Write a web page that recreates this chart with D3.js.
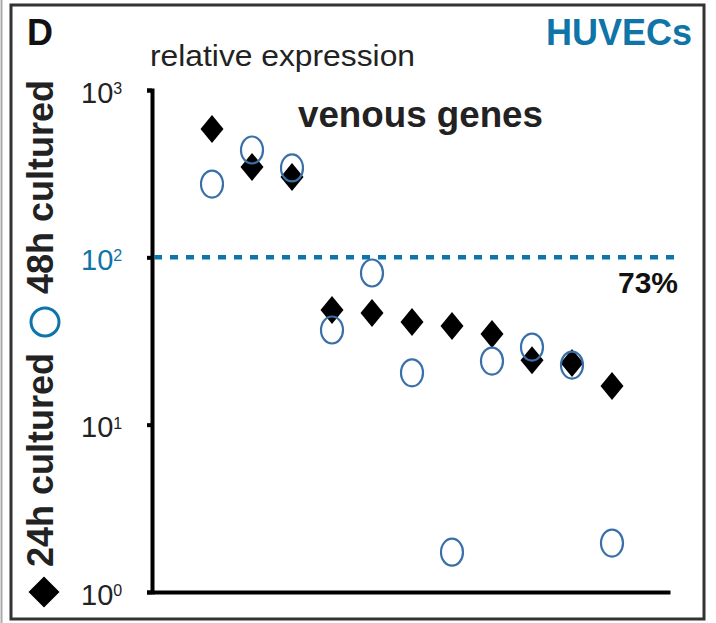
<!DOCTYPE html>
<html lang="en">
<head>
  <meta charset="UTF-8">
  <title>HUVECs venous genes</title>
  <script src="https://d3js.org/d3.v7.min.js"></script>
  <style>
    body {
      margin: 0;
      background: #fff;
    }
    svg {
      display: block;
      font-family: Arial, "Liberation Sans", Helvetica, sans-serif;
    }
  </style>
</head>
<body>
  <svg width="716" height="623"></svg>
  <script>
    // venous genes, relative expression (log scale)
    const genes = ["g1", "g2", "g3", "g4", "g5", "g6", "g7", "g8", "g9", "g10", "g11"];
    const cultured24h = [585, 347, 302, 48.4, 46.5, 41.1, 38.9, 34.8, 24.3, 23.4, 17.0];
    const cultured48h = [274, 438, 342, 36.8, 80.6, 20.4, 1.73, 24.0, 29.1, 22.7, 1.96];
    const yTicks = [1, 10, 100, 1000];
    const threshold = 100;
    const thresholdLabel = "73%";

    const blue = "#0f74a8";
    const circleBlue = "#3a70aa";
    const ink = "#222";

    const plot = {left: 152, right: 670, top: 90, bottom: 592};

    const svg = d3.select("svg");

    // outer frame
    svg.append("line")
      .attr("x1", 1.5).attr("x2", 1.5).attr("y1", 0).attr("y2", 623)
      .attr("stroke", "#aaa").attr("stroke-width", 2);
    svg.append("rect")
      .attr("x", 11).attr("y", 5).attr("width", 693).attr("height", 614)
      .attr("fill", "none").attr("stroke", "#333").attr("stroke-width", 3);

    const x = d3.scaleLinear()
      .domain([-1.5, genes.length + 0.45])
      .range([plot.left, plot.right]);

    const y = d3.scaleLog()
      .domain([1, 1000])
      .range([plot.bottom, plot.top]);

    // y axis
    const yAxis = svg.append("g")
      .attr("transform", `translate(${plot.left},0)`)
      .call(d3.axisLeft(y).tickValues(yTicks).tickSize(5).tickSizeOuter(5));

    yAxis.select(".domain").attr("stroke", "#000").attr("stroke-width", 4);
    yAxis.selectAll(".tick line").attr("stroke", "#000").attr("stroke-width", 4);
    yAxis.selectAll(".tick text").each(function (d) {
      const t = d3.select(this)
        .text("")
        .attr("x", -71)
        .attr("text-anchor", "start")
        .attr("font-size", 29)
        .attr("fill", d === threshold ? blue : ink)
        .attr("dy", "0.42em");
      t.append("tspan").text("10");
      t.append("tspan")
        .attr("font-size", 16)
        .attr("dy", "-0.55em")
        .text(Math.round(Math.log10(d)));
    });

    // x axis
    const xAxis = svg.append("g")
      .attr("transform", `translate(0,${plot.bottom})`)
      .call(d3.axisBottom(x).tickValues([]).tickSizeOuter(0));
    xAxis.select(".domain").attr("stroke", "#000").attr("stroke-width", 4);

    // threshold line
    svg.append("line")
      .attr("x1", plot.left + 2).attr("x2", plot.right + 5)
      .attr("y1", y(threshold)).attr("y2", y(threshold))
      .attr("stroke", blue)
      .attr("stroke-width", 4.5)
      .attr("stroke-dasharray", "8,8");

    svg.append("text")
      .attr("x", 678).attr("y", 293)
      .attr("text-anchor", "end")
      .attr("font-size", 30).attr("font-weight", "bold")
      .attr("fill", "#111")
      .text(thresholdLabel);

    // markers
    const diamond = (w, h) => `M0,${-h / 2}L${w / 2},0L0,${h / 2}L${-w / 2},0Z`;

    svg.append("g").selectAll("path")
      .data(cultured24h)
      .join("path")
      .attr("d", diamond(23, 28))
      .attr("transform", (d, i) => `translate(${x(i)},${y(d)})`)
      .attr("fill", "#000");

    svg.append("g").selectAll("ellipse")
      .data(cultured48h)
      .join("ellipse")
      .attr("cx", (d, i) => x(i))
      .attr("cy", d => y(d))
      .attr("rx", 11)
      .attr("ry", 13.5)
      .attr("fill", "none")
      .attr("stroke", circleBlue)
      .attr("stroke-width", 2.2);

    // titles
    svg.append("text")
      .attr("x", 27).attr("y", 45)
      .attr("font-size", 36).attr("font-weight", "bold")
      .attr("fill", "#111")
      .text("D");

    svg.append("text")
      .attr("x", 692).attr("y", 45)
      .attr("text-anchor", "end")
      .attr("font-size", 36).attr("font-weight", "bold")
      .attr("fill", blue)
      .text("HUVECs");

    svg.append("text")
      .attr("x", 150).attr("y", 66)
      .attr("font-size", 29)
      .attr("textLength", 265)
      .attr("lengthAdjust", "spacingAndGlyphs")
      .attr("fill", ink)
      .text("relative expression");

    svg.append("text")
      .attr("x", 298).attr("y", 127)
      .attr("font-size", 37).attr("font-weight", "bold")
      .attr("textLength", 245)
      .attr("lengthAdjust", "spacingAndGlyphs")
      .attr("fill", ink)
      .text("venous genes");

    // rotated legend on the left
    const legend = svg.append("g");
    legend.append("path")
      .attr("d", diamond(31, 31))
      .attr("transform", "translate(44,592)")
      .attr("fill", "#000");
    legend.append("text")
      .attr("transform", "translate(53,567) rotate(-90)")
      .attr("font-size", 36).attr("font-weight", "bold")
      .attr("fill", ink)
      .text("24h cultured");
    legend.append("circle")
      .attr("cx", 45).attr("cy", 322).attr("r", 14)
      .attr("fill", "none")
      .attr("stroke", blue)
      .attr("stroke-width", 3);
    legend.append("text")
      .attr("transform", "translate(53,294) rotate(-90)")
      .attr("font-size", 36).attr("font-weight", "bold")
      .attr("fill", ink)
      .text("48h cultured");
  </script>
</body>
</html>
